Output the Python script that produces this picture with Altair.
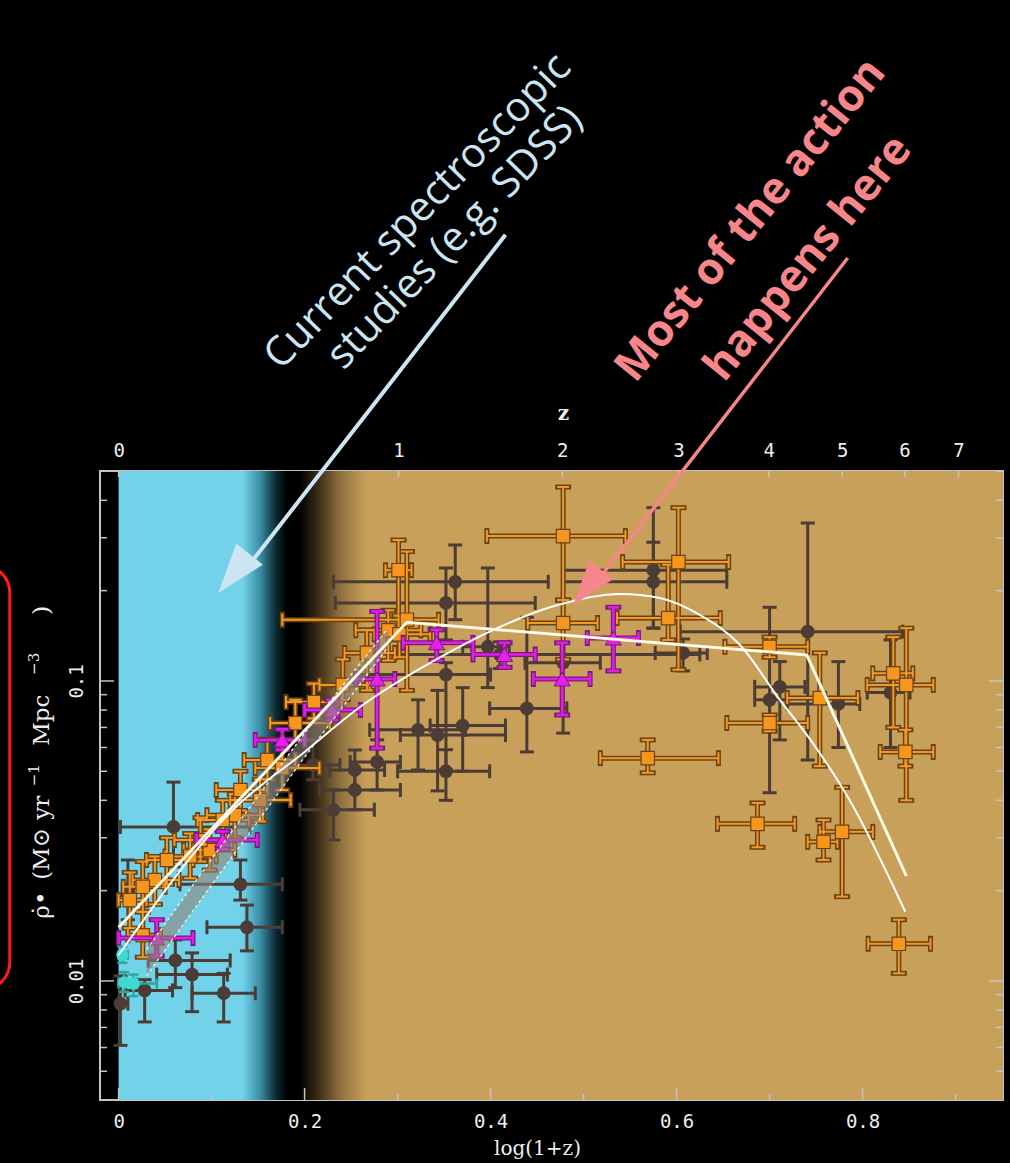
import math
import altair as alt
import pandas as pd

# Plot-area limits: log(1+z) on x, star-formation-rate density on y (log)
X_DOMAIN = [-0.02, 0.951]
Y_DOMAIN = [0.00401, 0.501]

# Each row: (log(1+z), rho, x_lo, x_hi, rho_lo, rho_hi)
dark_points = [
    (0.362, 0.214, 0.231, 0.462, 0.160, 0.284),
    (0.352, 0.182, 0.233, 0.448, 0.137, 0.238),
    (0.397, 0.130, 0.370, 0.420, 0.095, 0.238),
    (0.352, 0.105, 0.260, 0.400, 0.0505, 0.115),
    (0.322, 0.0687, 0.270, 0.373, 0.0505, 0.0865),
    (0.343, 0.066, 0.303, 0.416, 0.043, 0.093),
    (0.370, 0.071, 0.335, 0.416, 0.050, 0.095),
    (0.352, 0.050, 0.300, 0.399, 0.040, 0.059),
    (0.439, 0.081, 0.399, 0.482, 0.058, 0.163),
    (0.478, 0.115, 0.437, 0.518, 0.067, 0.134),
    (0.575, 0.234, 0.478, 0.654, 0.150, 0.378),
    (0.575, 0.214, 0.478, 0.654, 0.150, 0.290),
    (0.741, 0.146, 0.604, 0.843, 0.0545, 0.336),
    (0.711, 0.0955, 0.684, 0.738, 0.0636, 0.116),
    (0.774, 0.0838, 0.719, 0.797, 0.060, 0.116),
    (0.830, 0.0915, 0.805, 0.851, 0.060, 0.137),
    (0.607, 0.124, 0.577, 0.633, 0.108, 0.138),
    (0.700, 0.0865, 0.684, 0.718, 0.0424, 0.176),
    (0.410, 0.1225, 0.297, 0.625, 0.110, 0.135),
    (0.209, 0.0525, 0.174, 0.238, 0.0468, 0.0636),
    (0.254, 0.0505, 0.227, 0.286, 0.0433, 0.0589),
    (0.254, 0.0433, 0.216, 0.303, 0.0372, 0.0505),
    (0.231, 0.0372, 0.195, 0.275, 0.0295, 0.0433),
    (0.278, 0.0537, 0.249, 0.303, 0.0433, 0.0636),
    (0.059, 0.0326, 0.002, 0.141, 0.024, 0.046),
    (0.131, 0.021, 0.066, 0.176, 0.0186, 0.0253),
    (0.138, 0.0151, 0.095, 0.176, 0.0126, 0.0179),
    (0.061, 0.0117, 0.032, 0.120, 0.0095, 0.0137),
    (0.079, 0.0105, 0.041, 0.117, 0.0079, 0.0124),
    (0.113, 0.0091, 0.079, 0.147, 0.0073, 0.0106),
    (0.028, 0.0093, 0.007, 0.058, 0.0073, 0.0101),
    (0.002, 0.0084, 0.000, 0.010, 0.0061, 0.0104),
    (0.010, 0.0201, 0.004, 0.016, 0.016, 0.0253),
]

orange_points = [
    (0.478, 0.304, 0.396, 0.545, 0.186, 0.443),
    (0.478, 0.156, 0.440, 0.515, 0.118, 0.186),
    (0.591, 0.162, 0.536, 0.647, 0.137, 0.244),
    (0.602, 0.249, 0.542, 0.656, 0.109, 0.378),
    (0.700, 0.130, 0.652, 0.741, 0.120, 0.140),
    (0.754, 0.0877, 0.719, 0.795, 0.052, 0.124),
    (0.833, 0.106, 0.811, 0.854, 0.070, 0.140),
    (0.846, 0.058, 0.819, 0.876, 0.052, 0.0687),
    (0.847, 0.097, 0.805, 0.876, 0.040, 0.150),
    (0.569, 0.0553, 0.518, 0.645, 0.0494, 0.0636),
    (0.700, 0.0724, 0.654, 0.741, 0.068, 0.077),
    (0.687, 0.0334, 0.644, 0.727, 0.0279, 0.0392),
    (0.758, 0.0291, 0.741, 0.773, 0.0253, 0.0344),
    (0.778, 0.0314, 0.754, 0.811, 0.0191, 0.0442),
    (0.839, 0.0133, 0.806, 0.873, 0.0106, 0.016),
    (0.310, 0.160, 0.176, 0.344, 0.093, 0.270),
    (0.301, 0.234, 0.287, 0.315, 0.137, 0.295),
    (0.290, 0.1475, 0.255, 0.325, 0.117, 0.172),
    (0.302, 0.143, 0.275, 0.335, 0.120, 0.165),
    (0.267, 0.124, 0.243, 0.297, 0.093, 0.148),
    (0.241, 0.097, 0.216, 0.270, 0.0865, 0.118),
    (0.210, 0.085, 0.180, 0.240, 0.075, 0.098),
    (0.190, 0.0724, 0.163, 0.227, 0.0636, 0.0865),
    (0.176, 0.0513, 0.147, 0.216, 0.0433, 0.0636),
    (0.160, 0.0545, 0.135, 0.190, 0.047, 0.064),
    (0.152, 0.0401, 0.120, 0.185, 0.034, 0.047),
    (0.131, 0.0433, 0.105, 0.160, 0.037, 0.050),
    (0.125, 0.0357, 0.095, 0.155, 0.030, 0.042),
    (0.112, 0.0344, 0.085, 0.140, 0.029, 0.040),
    (0.098, 0.0273, 0.070, 0.125, 0.0234, 0.032),
    (0.088, 0.0295, 0.060, 0.115, 0.025, 0.035),
    (0.077, 0.026, 0.050, 0.105, 0.022, 0.031),
    (0.052, 0.0253, 0.030, 0.080, 0.021, 0.030),
    (0.039, 0.0217, 0.015, 0.065, 0.018, 0.026),
    (0.026, 0.0206, 0.005, 0.050, 0.017, 0.025),
    (0.012, 0.0186, 0.000, 0.030, 0.015, 0.023),
    (0.026, 0.0142, 0.010, 0.045, 0.012, 0.017),
]

magenta_points = [
    (0.532, 0.139, 0.504, 0.559, 0.108, 0.176),
    (0.477, 0.1015, 0.446, 0.507, 0.077, 0.134),
    (0.415, 0.1225, 0.381, 0.448, 0.111, 0.134),
    (0.342, 0.134, 0.306, 0.381, 0.117, 0.148),
    (0.278, 0.1015, 0.255, 0.297, 0.0597, 0.1705),
    (0.230, 0.080, 0.200, 0.260, 0.0741, 0.0865),
    (0.176, 0.0636, 0.147, 0.200, 0.059, 0.069),
    (0.112, 0.0295, 0.084, 0.149, 0.0275, 0.0315),
    (0.041, 0.0139, 0.000, 0.080, 0.0121, 0.016),
]

cyan_points = [
    (0.004, 0.0122, 0.000, 0.010, 0.0115, 0.013),
    (0.016, 0.0098, 0.000, 0.041, 0.0089, 0.0105),
    (0.006, 0.0099, 0.000, 0.020, 0.0092, 0.0107),
]

# Model fits
piecewise_x = [0.0, 0.31, 0.74, 0.847]
piecewise_y = [0.0151, 0.157, 0.122, 0.0224]

curve_x = [0.0, 0.123, 0.20, 0.26, 0.346, 0.403, 0.464, 0.54, 0.582, 0.625,
           0.668, 0.711, 0.744, 0.786, 0.846]
curve_y = [0.0122, 0.0372, 0.058, 0.082, 0.120, 0.148, 0.176, 0.195, 0.189, 0.166,
           0.132, 0.0865, 0.0636, 0.0401, 0.017]

band_x = [0.03, 0.10, 0.20, 0.29]
band_lo = [0.0104, 0.0209, 0.0557, 0.130]
band_hi = [0.0127, 0.0255, 0.067, 0.150]

# Axis ticks
x_major = [0, 0.2, 0.4, 0.6, 0.8]
x_minor = [0.1, 0.3, 0.5, 0.7, 0.9]
y_major = [0.01, 0.1]
y_minor = [0.005, 0.006, 0.007, 0.008, 0.009,
           0.02, 0.03, 0.04, 0.05, 0.06, 0.07, 0.08, 0.09,
           0.2, 0.3, 0.4, 0.5]
z_labels = [0, 1, 2, 3, 4, 5, 6, 7]
z_ticks = [math.log10(1 + z) for z in z_labels]

# y-axis title pieces (text, position along the axis, superscript flag)
ytitle_text = ["ρ̇•", "(M⊙", "yr", "−1", "Mpc", "−3", ")"]
ytitle_pos = [0.0179, 0.0265, 0.0378, 0.0485, 0.0740, 0.114, 0.172]
ytitle_sup = [False, False, False, True, False, True, False]

W, H = 903, 629
FRAME = "#c4c4c4"
TEXT = "#eeeeee"
MONO = "DejaVu Sans Mono"
SERIF = "DejaVu Serif"

xs = alt.Scale(domain=X_DOMAIN, nice=False, zero=False)
ys = alt.Scale(type="log", domain=Y_DOMAIN, nice=False)


def X(field, axis=None):
    return alt.X(field, type="quantitative", scale=xs, axis=axis)


def Y(field, axis=None):
    return alt.Y(field, type="quantitative", scale=ys, axis=axis)


COLS = ["x", "y", "xlo", "xhi", "ylo", "yhi"]


def frame(rows):
    return pd.DataFrame(rows, columns=COLS)


def error_layers(df, color, width, cap):
    base = alt.Chart(df)
    h = base.mark_rule(color=color, strokeWidth=width).encode(
        x=X("xlo"), x2="xhi", y=Y("y"))
    v = base.mark_rule(color=color, strokeWidth=width).encode(
        x=X("x"), y=Y("ylo"), y2="yhi")
    hc = base.transform_fold(["xlo", "xhi"], as_=["end", "xe"]).mark_tick(
        orient="vertical", size=cap, thickness=width, color=color, opacity=1
    ).encode(x=X("xe"), y=Y("y"))
    vc = base.transform_fold(["ylo", "yhi"], as_=["end", "ye"]).mark_tick(
        orient="horizontal", size=cap, thickness=width, color=color, opacity=1
    ).encode(x=X("x"), y=Y("ye"))
    return [h, v, hc, vc]


# Background: blue (local) -> black gap -> tan (high z)
bg_df = pd.DataFrame({"x": [0.0], "x2": [X_DOMAIN[1]], "y": [Y_DOMAIN[0]], "y2": [Y_DOMAIN[1]]})
gradient = alt.LinearGradient(
    gradient="linear", x1=0, x2=1, y1=0, y2=0,
    stops=[
        alt.GradientStop(offset=0.0, color="#72d2ea"),
        alt.GradientStop(offset=0.140, color="#72d2ea"),
        alt.GradientStop(offset=0.160, color="#3a8ea4"),
        alt.GradientStop(offset=0.178, color="#0d2a33"),
        alt.GradientStop(offset=0.190, color="#000000"),
        alt.GradientStop(offset=0.205, color="#000000"),
        alt.GradientStop(offset=0.226, color="#3c2e17"),
        alt.GradientStop(offset=0.250, color="#8d6f3c"),
        alt.GradientStop(offset=0.280, color="#c9a05a"),
        alt.GradientStop(offset=1.0, color="#c9a05a"),
    ],
)
bottom_axis = alt.Axis(
    orient="bottom", values=x_major, format=".1~f", ticks=False, domain=False, grid=False,
    labelFont=MONO, labelFontSize=19, labelColor=TEXT, labelPadding=12,
    title="log(1+z)", titleFont=SERIF, titleFontSize=20, titleFontWeight="normal",
    titleColor=TEXT, titleX=437, titleY=54, titleBaseline="alphabetic",
)
left_axis = alt.Axis(
    orient="left", values=y_major, format="~g", ticks=False, domain=False, grid=False,
    labelFont=MONO, labelFontSize=19, labelColor=TEXT, labelAngle=270,
    labelAlign="center", labelBaseline="middle", labelPadding=24, title=None,
)
background = alt.Chart(bg_df).mark_rect(color=gradient).encode(
    x=X("x", bottom_axis), x2="x2", y=Y("y", left_axis), y2="y2")

layers = [background]

# Dark compilation points
dark = frame(dark_points)
layers += error_layers(dark, "#4b3d35", 3, 14)
layers.append(alt.Chart(dark).mark_point(
    shape="circle", filled=True, size=190, color="#4b3d35", opacity=1
).encode(x=X("x"), y=Y("y")))

# Orange points (outlined bars)
orange = frame(orange_points)
layers += error_layers(orange, "#6a4214", 5, 16)
layers += error_layers(orange, "#f39a24", 2, 12)
layers.append(alt.Chart(orange).mark_point(
    shape="square", filled=True, size=180, fill="#f7961d", stroke="#6a4214",
    strokeWidth=1.2, opacity=1
).encode(x=X("x"), y=Y("y")))

# Magenta triangles
magenta = frame(magenta_points)
layers += error_layers(magenta, "#7a1a7e", 5, 16)
layers += error_layers(magenta, "#e11fe4", 2.5, 12)
layers.append(alt.Chart(magenta).mark_point(
    shape="triangle-up", filled=True, size=260, fill="#e620ea", stroke="#7a1a7e",
    strokeWidth=1, opacity=1
).encode(x=X("x"), y=Y("y")))

# Local cyan points
cyan = frame(cyan_points)
layers += error_layers(cyan, "#27a99c", 2.5, 10)
layers.append(alt.Chart(cyan).mark_point(
    shape="circle", filled=True, size=150, color="#40d8d2", opacity=1
).encode(x=X("x"), y=Y("y")))

# Hatched uncertainty band
band = pd.DataFrame({"x": band_x, "lo": band_lo, "hi": band_hi})
layers.append(alt.Chart(band).mark_area(color="#8f8379", opacity=0.6).encode(
    x=X("x"), y=Y("lo"), y2="hi"))
for col in ["lo", "hi"]:
    layers.append(alt.Chart(band).mark_line(
        color="#eeeeee", strokeWidth=1.3, strokeDash=[3, 3]
    ).encode(x=X("x"), y=Y(col)))

# Fits
pw = pd.DataFrame({"x": piecewise_x, "y": piecewise_y, "i": range(len(piecewise_x))})
layers.append(alt.Chart(pw).mark_line(color="#fff1c8", strokeWidth=3).encode(
    x=X("x"), y=Y("y"), order="i:Q"))
layers.append(alt.Chart(pw).mark_line(color="#ffffff", strokeWidth=1.4).encode(
    x=X("x"), y=Y("y"), order="i:Q"))
cv = pd.DataFrame({"x": curve_x, "y": curve_y, "i": range(len(curve_x))})
layers.append(alt.Chart(cv).mark_line(
    color="#ffffff", strokeWidth=2, interpolate="monotone"
).encode(x=X("x"), y=Y("y"), order="i:Q"))


# Frame ticks (drawn inward)
def tick_rules(values, axis_side, length, axis=None):
    df = pd.DataFrame({"v": values})
    c = alt.Chart(df).mark_rule(color=FRAME, strokeWidth=1.5)
    if axis_side == "bottom":
        return c.encode(x=X("v"), y=alt.value(H), y2=alt.value(H - length))
    if axis_side == "top":
        return c.encode(x=X("v", axis), y=alt.value(0), y2=alt.value(length))
    if axis_side == "left":
        return c.encode(y=Y("v"), x=alt.value(0), x2=alt.value(length))
    return c.encode(y=Y("v"), x=alt.value(W), x2=alt.value(W - length))


top_axis = alt.Axis(
    orient="top", values=z_ticks,
    labelExpr="format(pow(10, datum.value) - 1, '.0f')",
    ticks=False, domain=False, grid=False,
    labelFont=MONO, labelFontSize=19, labelColor=TEXT, labelPadding=11,
    title="z", titleFont=SERIF, titleFontSize=20, titleFontWeight="bold",
    titleColor=TEXT, titleX=463, titleY=-52, titleBaseline="alphabetic",
)
layers += [
    tick_rules(x_major, "bottom", 12),
    tick_rules(x_minor, "bottom", 6),
    tick_rules(z_ticks, "top", 6, top_axis),
    tick_rules(y_major, "left", 14),
    tick_rules(y_minor, "left", 7),
    tick_rules(y_major, "right", 14),
    tick_rules(y_minor, "right", 7),
]

# y-axis title, set piece by piece so the exponents sit raised
ytitle = pd.DataFrame({
    "t": ytitle_text,
    "y": ytitle_pos,
    "x": [-0.0915 if s else -0.0823 for s in ytitle_sup],
    "size": [15 if s else 23 for s in ytitle_sup],
})
layers.append(alt.Chart(ytitle).mark_text(
    angle=270, font=SERIF, color=TEXT, align="center", baseline="middle"
).encode(x=X("x"), y=Y("y"), text="t:N",
         size=alt.Size("size:Q", scale=None, legend=None)))

# Annotations (placed in data coordinates, outside the plot area)
red_box = pd.DataFrame({"x": [-0.25], "x2": [-0.117], "y": [0.00933], "y2": [0.2436]})
layers.append(alt.Chart(red_box).mark_rect(
    filled=False, stroke="#ff1c1c", strokeWidth=3, cornerRadius=28
).encode(x=X("x"), x2="x2", y=Y("y"), y2="y2"))

BLUE = "#cde4f2"
RED = "#f7868a"

blue_shaft = pd.DataFrame({"x": [0.416], "x2": [0.141], "y": [3.07], "y2": [0.245]})
layers.append(alt.Chart(blue_shaft).mark_rule(color=BLUE, strokeWidth=4).encode(
    x=X("x"), x2="x2", y=Y("y"), y2="y2"))
red_shaft = pd.DataFrame({"x": [0.784], "x2": [0.518], "y": [2.57], "y2": [0.222]})
layers.append(alt.Chart(red_shaft).mark_rule(color=RED, strokeWidth=3.5).encode(
    x=X("x"), x2="x2", y=Y("y"), y2="y2"))

HEAD = "M0,-1L0.68,1L-0.68,1Z"
blue_head = pd.DataFrame({"x": [0.124], "y": [0.228]})
layers.append(alt.Chart(blue_head).mark_point(
    shape=HEAD, filled=True, size=2500, angle=218.6, color=BLUE, opacity=1
).encode(x=X("x"), y=Y("y")))
red_head = pd.DataFrame({"x": [0.504], "y": [0.205]})
layers.append(alt.Chart(red_head).mark_point(
    shape=HEAD, filled=True, size=2000, angle=218.4, color=RED, opacity=1
).encode(x=X("x"), y=Y("y")))

blue_text = pd.DataFrame({
    "x": [0.322, 0.362], "y": [3.66, 3.0],
    "t": ["Current spectroscopic", "studies (e.g. SDSS)"],
})
layers.append(alt.Chart(blue_text).mark_text(
    angle=314, font="Open Sans", fontSize=41, color=BLUE,
    align="center", baseline="middle"
).encode(x=X("x"), y=Y("y"), text="t:N"))

red_text = pd.DataFrame({
    "x": [0.680, 0.742], "y": [3.43, 2.56],
    "t": ["Most of the action", "happens here"],
})
layers.append(alt.Chart(red_text).mark_text(
    angle=309, font="Open Sans", fontSize=44, fontWeight="bold", color=RED,
    align="center", baseline="middle"
).encode(x=X("x"), y=Y("y"), text="t:N"))

chart = alt.layer(*layers).resolve_axis(x="independent", y="independent").properties(
    width=W, height=H, background="black",
    padding={"left": 100, "top": 471, "right": 7, "bottom": 63},
    autosize=alt.AutoSizeParams(type="none"),
).configure_view(stroke=FRAME, strokeWidth=2)

chart.save("out.html", embed_options={"renderer": "svg", "actions": False})
